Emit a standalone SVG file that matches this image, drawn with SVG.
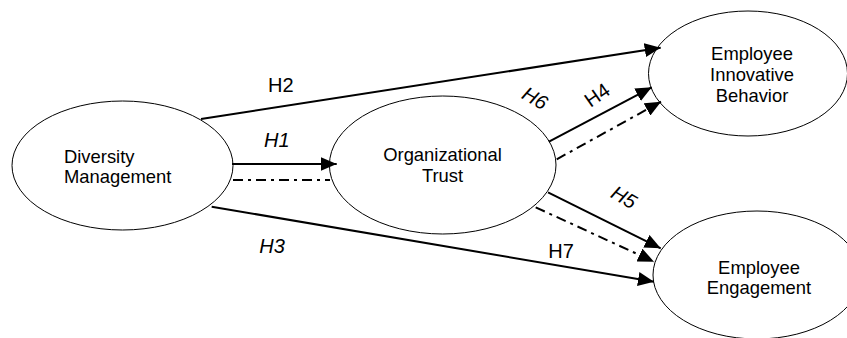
<svg xmlns="http://www.w3.org/2000/svg" width="847" height="338" viewBox="0 0 847 338">
<style>
  .node { fill: #ffffff; stroke: #000000; stroke-width: 1; }
  .txt { font-family: "Liberation Sans", Arial, sans-serif; font-size: 18.4px; fill: #000000; }
  .lbl { font-family: "Liberation Sans", Arial, sans-serif; font-size: 20px; fill: #000000; }
  .it { font-style: italic; }
  .solid { stroke: #000000; stroke-width: 2; fill: none; }
  .dd { stroke: #000000; stroke-width: 2; fill: none; stroke-dasharray: 10 5 3 5; }
</style>
<defs>
  <marker id="arr" markerUnits="userSpaceOnUse" markerWidth="16" markerHeight="14" refX="16" refY="7" orient="auto" viewBox="0 0 16 14">
    <path d="M0,0 L16,7 L0,14 Z" fill="#000000"/>
  </marker>
</defs>
<rect x="0" y="0" width="847" height="338" fill="#ffffff"/>

<g id="node-dm">
  <ellipse class="node" cx="122.5" cy="165.5" rx="110.5" ry="64.5"/>
  <text class="txt" x="64" y="163">Diversity</text>
  <text class="txt" x="64" y="183">Management</text>
</g>
<g id="node-ot">
  <ellipse class="node" cx="442.7" cy="165" rx="113.3" ry="69"/>
  <text class="txt" x="442.5" y="161" text-anchor="middle">Organizational</text>
  <text class="txt" x="442.5" y="182" text-anchor="middle">Trust</text>
</g>
<g id="node-eib">
  <ellipse class="node" cx="748" cy="73.5" rx="99.5" ry="62.5"/>
  <text class="txt" x="752" y="59.5" text-anchor="middle">Employee</text>
  <text class="txt" x="752" y="81" text-anchor="middle">Innovative</text>
  <text class="txt" x="752" y="101.7" text-anchor="middle">Behavior</text>
</g>
<g id="node-ee">
  <ellipse class="node" cx="757" cy="275" rx="104" ry="64"/>
  <text class="txt" x="759" y="274.3" text-anchor="middle">Employee</text>
  <text class="txt" x="759" y="294.3" text-anchor="middle">Engagement</text>
</g>

<g id="connectors">
  <line class="solid" x1="201" y1="119" x2="660.7" y2="47.7" marker-end="url(#arr)"/>
  <line class="solid" x1="232" y1="164" x2="336.7" y2="164" marker-end="url(#arr)"/>
  <line class="dd" x1="233" y1="180" x2="330" y2="180"/>
  <line class="solid" x1="211.7" y1="206.7" x2="654" y2="281.7" marker-end="url(#arr)"/>
  <line class="solid" x1="549" y1="141.7" x2="651.7" y2="87.3" marker-end="url(#arr)"/>
  <line class="dd" x1="556.7" y1="159.3" x2="661" y2="101.7" marker-end="url(#arr)"/>
  <line class="solid" x1="548" y1="192.3" x2="660.7" y2="248.3" marker-end="url(#arr)"/>
  <line class="dd" x1="535.7" y1="207.3" x2="654" y2="261.7" marker-end="url(#arr)"/>

  <text class="lbl" x="268" y="91.7">H2</text>
  <text class="lbl it" x="264" y="146.7">H1</text>
  <text class="lbl it" x="259.3" y="253.3">H3</text>
  <text class="lbl" x="548.3" y="258.3">H7</text>
  <text class="lbl it" transform="translate(535,98) rotate(30)" x="0" y="7" text-anchor="middle">H6</text>
  <text class="lbl" transform="translate(597,95) rotate(-35)" x="0" y="7" text-anchor="middle">H4</text>
  <text class="lbl it" transform="translate(624,197) rotate(30)" x="0" y="7" text-anchor="middle">H5</text>
</g>
</svg>
